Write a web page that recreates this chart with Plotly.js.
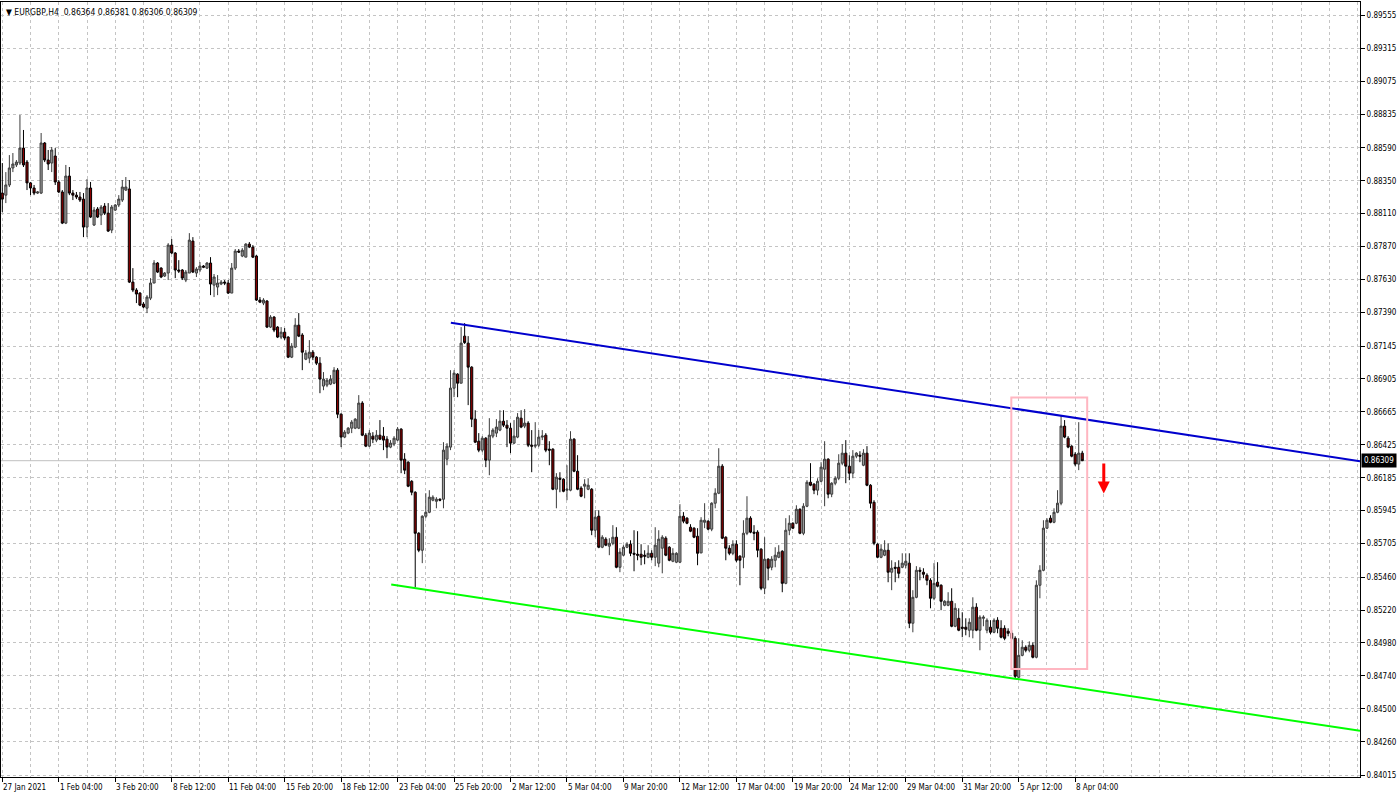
<!DOCTYPE html>
<html>
<head>
<meta charset="utf-8">
<script src="https://cdn.plot.ly/plotly-3.0.1.min.js"></script>
<style>html,body{margin:0;padding:0;background:#fff;}#chart{width:1400px;height:798px;}</style>
</head>
<body>
<div id="chart"></div>
<script>
// EURGBP H4 candles (index = bar number from 27 Jan 2021)
const openP = [
0.88260,0.88245,0.88319,0.88443,0.88465,0.88479,0.88588,0.88486,0.88334,0.88297,
0.88260,0.88260,0.88625,0.88501,0.88479,0.88530,0.88341,0.88268,0.88041,0.88384,
0.88260,0.88245,0.88231,0.88216,0.88012,0.88297,0.88027,0.88144,0.88100,0.88165,
0.88114,0.87990,0.88136,0.88173,0.88209,0.88282,0.88290,0.87611,0.87553,0.87531,
0.87451,0.87421,0.87494,0.87604,0.87750,0.87713,0.87655,0.87677,0.87881,0.87823,
0.87699,0.87699,0.87626,0.87677,0.87910,0.87677,0.87699,0.87728,0.87713,0.87750,
0.87589,0.87575,0.87597,0.87611,0.87604,0.87531,0.87713,0.87837,0.87801,0.87793,
0.87888,0.87866,0.87801,0.87480,0.87458,0.87473,0.87283,0.87356,0.87283,0.87210,
0.87246,0.87210,0.87064,0.87137,0.87297,0.87225,0.87049,0.87057,0.87100,0.87064,
0.87020,0.86853,0.86860,0.86867,0.86874,0.86969,0.86648,0.86481,0.86510,0.86546,
0.86546,0.86546,0.86729,0.86495,0.86415,0.86488,0.86459,0.86495,0.86488,0.86466,
0.86408,0.86430,0.86459,0.86539,0.86320,0.86298,0.86159,0.86079,0.85780,0.85656,
0.85904,0.85933,0.86021,0.86013,0.86028,0.86028,0.86320,0.86408,0.86838,0.86940,
0.86874,0.87217,0.87166,0.86991,0.86612,0.86451,0.86386,0.86473,0.86313,0.86488,
0.86510,0.86532,0.86597,0.86568,0.86546,0.86437,0.86481,0.86619,0.86561,0.86583,
0.86422,0.86415,0.86422,0.86481,0.86495,0.86393,0.86393,0.86101,0.86181,0.86174,
0.86094,0.86094,0.86466,0.86232,0.86109,0.86123,0.86101,0.86101,0.85802,0.85904,
0.85678,0.85737,0.85686,0.85707,0.85751,0.85532,0.85620,0.85678,0.85700,0.85634,
0.85627,0.85627,0.85620,0.85605,0.85634,0.85605,0.85562,0.85671,0.85744,0.85678,
0.85576,0.85569,0.85569,0.85904,0.85890,0.85824,0.85817,0.85758,0.85637,0.85860,
0.85868,0.85810,0.85999,0.86072,0.86269,0.85751,0.85671,0.85634,0.85700,0.85613,
0.85605,0.85780,0.85890,0.85788,0.85788,0.85664,0.85379,0.85591,0.85532,0.85583,
0.85605,0.85649,0.85415,0.85802,0.85853,0.85853,0.85955,0.85780,0.85977,0.86152,
0.86138,0.86094,0.86159,0.86247,0.86320,0.86065,0.86145,0.86181,0.86291,0.86364,
0.86269,0.86218,0.86342,0.86349,0.86276,0.86364,0.86130,0.86006,0.85700,0.85605,
0.85620,0.85656,0.85496,0.85532,0.85532,0.85532,0.85547,0.85562,0.85124,0.85313,
0.85510,0.85496,0.85474,0.85437,0.85306,0.85423,0.85401,0.85255,0.85255,0.85284,
0.85102,0.85160,0.85095,0.85095,0.85073,0.85073,0.85241,0.85073,0.85160,0.85073,
0.85095,0.85058,0.85146,0.85087,0.85087,0.85066,0.85051,0.85014,0.84730,0.84890,
0.84949,0.84927,0.84963,0.84876,0.85401,0.85510,0.85817,0.85890,0.85860,0.85933,
0.85999,0.86561,0.86473,0.86415,0.86356,0.86284,0.86364];
const highP = [
0.88479,0.88413,0.88537,0.88552,0.88501,0.88829,0.88720,0.88501,0.88341,0.88319,
0.88275,0.88698,0.88632,0.88574,0.88596,0.88588,0.88355,0.88282,0.88465,0.88450,
0.88282,0.88268,0.88268,0.88260,0.88362,0.88341,0.88158,0.88158,0.88173,0.88187,
0.88187,0.88173,0.88180,0.88245,0.88355,0.88377,0.88355,0.87713,0.87567,0.87538,
0.87465,0.87516,0.87640,0.87771,0.87757,0.87720,0.87684,0.87895,0.87925,0.87830,
0.87771,0.87706,0.87699,0.87968,0.87939,0.87720,0.87757,0.87735,0.87757,0.87793,
0.87670,0.87662,0.87626,0.87626,0.87626,0.87750,0.87852,0.87852,0.87859,0.87895,
0.87903,0.87881,0.87808,0.87502,0.87494,0.87480,0.87370,0.87363,0.87290,0.87283,
0.87276,0.87217,0.87166,0.87348,0.87385,0.87239,0.87115,0.87188,0.87115,0.87071,
0.87064,0.86955,0.86911,0.86933,0.86991,0.86984,0.86655,0.86532,0.86554,0.86605,
0.86619,0.86787,0.86743,0.86510,0.86532,0.86517,0.86532,0.86605,0.86554,0.86488,
0.86459,0.86488,0.86554,0.86546,0.86364,0.86305,0.86167,0.86086,0.85788,0.85911,
0.86072,0.86094,0.86057,0.86043,0.86035,0.86444,0.86437,0.86969,0.86969,0.86947,
0.87283,0.87312,0.87217,0.86998,0.86677,0.86510,0.86488,0.86481,0.86619,0.86546,
0.86612,0.86677,0.86677,0.86605,0.86583,0.86605,0.86656,0.86677,0.86685,0.86597,
0.86532,0.86590,0.86532,0.86532,0.86510,0.86451,0.86400,0.86218,0.86225,0.86181,
0.86276,0.86524,0.86473,0.86349,0.86123,0.86174,0.86181,0.86109,0.85948,0.85948,
0.85766,0.85751,0.85744,0.85839,0.85824,0.85671,0.85693,0.85715,0.85729,0.85802,
0.85795,0.85700,0.85656,0.85693,0.85656,0.85824,0.85802,0.85766,0.85758,0.85686,
0.85671,0.85642,0.85992,0.85934,0.85897,0.85846,0.85824,0.85817,0.85897,0.85999,
0.85875,0.86006,0.86108,0.86400,0.86284,0.85758,0.85693,0.85729,0.85729,0.85620,
0.85875,0.86050,0.85904,0.85839,0.85802,0.85671,0.85751,0.85598,0.85613,0.85678,
0.85693,0.85656,0.85890,0.85911,0.85860,0.85984,0.85962,0.85999,0.86167,0.86291,
0.86145,0.86181,0.86298,0.86451,0.86327,0.86152,0.86196,0.86356,0.86430,0.86459,
0.86349,0.86386,0.86371,0.86378,0.86393,0.86415,0.86138,0.86021,0.85707,0.85700,
0.85729,0.85707,0.85583,0.85569,0.85583,0.85634,0.85634,0.85634,0.85365,0.85540,
0.85532,0.85525,0.85488,0.85452,0.85562,0.85569,0.85408,0.85292,0.85350,0.85379,
0.85270,0.85233,0.85204,0.85160,0.85160,0.85313,0.85270,0.85182,0.85182,0.85160,
0.85146,0.85160,0.85168,0.85146,0.85109,0.85087,0.85073,0.85029,0.85014,0.85000,
0.84963,0.84992,0.84985,0.85437,0.85547,0.85875,0.85890,0.85911,0.85962,0.86094,
0.86640,0.86605,0.86488,0.86422,0.86371,0.86590,0.86381];
const lowP = [
0.88121,0.88187,0.88304,0.88413,0.88450,0.88465,0.88450,0.88282,0.88245,0.88245,
0.88253,0.88253,0.88486,0.88428,0.88413,0.88319,0.88260,0.88034,0.88034,0.88245,
0.88209,0.88216,0.88195,0.87939,0.87939,0.88078,0.88020,0.88078,0.88027,0.88100,
0.87976,0.87968,0.88129,0.88158,0.88195,0.88275,0.87604,0.87538,0.87458,0.87436,
0.87421,0.87385,0.87480,0.87604,0.87677,0.87640,0.87648,0.87626,0.87815,0.87640,
0.87677,0.87626,0.87611,0.87677,0.87677,0.87648,0.87684,0.87713,0.87706,0.87516,
0.87502,0.87516,0.87589,0.87589,0.87524,0.87531,0.87699,0.87823,0.87793,0.87793,
0.87859,0.87786,0.87473,0.87458,0.87443,0.87276,0.87276,0.87246,0.87203,0.87195,
0.87188,0.87057,0.87057,0.87130,0.87210,0.86969,0.87042,0.87020,0.87042,0.87006,
0.86801,0.86823,0.86845,0.86860,0.86867,0.86619,0.86408,0.86473,0.86502,0.86510,
0.86539,0.86539,0.86488,0.86408,0.86408,0.86437,0.86444,0.86459,0.86386,0.86327,
0.86400,0.86415,0.86451,0.86218,0.86211,0.86116,0.86057,0.85387,0.85642,0.85562,
0.85890,0.85926,0.86013,0.85962,0.86013,0.85962,0.86276,0.86386,0.86772,0.86772,
0.86874,0.87160,0.86714,0.86554,0.86437,0.86371,0.86371,0.86262,0.86203,0.86473,
0.86481,0.86524,0.86554,0.86408,0.86364,0.86430,0.86473,0.86546,0.86546,0.86408,
0.86225,0.86400,0.86408,0.86459,0.86371,0.86276,0.86094,0.85962,0.86079,0.86079,
0.86021,0.86086,0.86225,0.86094,0.86043,0.86035,0.86094,0.85766,0.85751,0.85671,
0.85671,0.85686,0.85620,0.85693,0.85525,0.85496,0.85613,0.85671,0.85613,0.85503,
0.85583,0.85547,0.85554,0.85598,0.85583,0.85540,0.85532,0.85488,0.85613,0.85576,
0.85569,0.85562,0.85562,0.85853,0.85846,0.85788,0.85744,0.85547,0.85634,0.85817,
0.85802,0.85795,0.85962,0.86065,0.85737,0.85583,0.85620,0.85620,0.85569,0.85401,
0.85525,0.85766,0.85780,0.85729,0.85605,0.85365,0.85336,0.85437,0.85510,0.85532,
0.85598,0.85350,0.85408,0.85766,0.85810,0.85846,0.85773,0.85766,0.85970,0.86123,
0.86065,0.86057,0.86152,0.85977,0.86035,0.86043,0.86130,0.86167,0.86276,0.86145,
0.86167,0.86181,0.86327,0.86298,0.86269,0.86123,0.85962,0.85693,0.85598,0.85598,
0.85613,0.85423,0.85365,0.85423,0.85452,0.85525,0.85525,0.85088,0.85058,0.85306,
0.85437,0.85452,0.85401,0.85233,0.85292,0.85386,0.85219,0.85248,0.85248,0.85095,
0.85095,0.85066,0.85022,0.85036,0.85022,0.85014,0.85066,0.84927,0.85102,0.85051,
0.85044,0.85051,0.85051,0.85014,0.85000,0.85029,0.85000,0.84723,0.84723,0.84883,
0.84912,0.84912,0.84868,0.84868,0.85306,0.85503,0.85810,0.85853,0.85853,0.85926,
0.85984,0.86473,0.86400,0.86334,0.86269,0.86240,0.86306];
const closeP = [
0.88216,0.88319,0.88443,0.88472,0.88486,0.88588,0.88465,0.88334,0.88297,0.88260,
0.88268,0.88625,0.88501,0.88472,0.88574,0.88341,0.88268,0.88041,0.88384,0.88260,
0.88245,0.88231,0.88209,0.88012,0.88297,0.88085,0.88136,0.88085,0.88158,0.88114,
0.87983,0.88158,0.88173,0.88216,0.88304,0.88304,0.87611,0.87553,0.87524,0.87443,
0.87429,0.87502,0.87604,0.87750,0.87684,0.87648,0.87677,0.87881,0.87823,0.87699,
0.87691,0.87640,0.87684,0.87917,0.87684,0.87706,0.87728,0.87720,0.87750,0.87597,
0.87648,0.87604,0.87611,0.87604,0.87531,0.87713,0.87837,0.87830,0.87844,0.87888,
0.87866,0.87793,0.87480,0.87465,0.87480,0.87283,0.87356,0.87261,0.87210,0.87246,
0.87203,0.87064,0.87144,0.87297,0.87217,0.87100,0.87093,0.87100,0.87064,0.87020,
0.86904,0.86904,0.86896,0.86904,0.86969,0.86648,0.86481,0.86517,0.86546,0.86590,
0.86612,0.86729,0.86495,0.86415,0.86510,0.86466,0.86495,0.86466,0.86459,0.86408,
0.86437,0.86473,0.86539,0.86313,0.86240,0.86123,0.86079,0.85780,0.85656,0.85904,
0.85933,0.86043,0.86043,0.86028,0.86021,0.86386,0.86415,0.86838,0.86947,0.86874,
0.87166,0.87170,0.86991,0.86612,0.86444,0.86386,0.86473,0.86313,0.86495,0.86532,
0.86554,0.86597,0.86568,0.86546,0.86437,0.86488,0.86626,0.86554,0.86583,0.86422,
0.86415,0.86422,0.86481,0.86488,0.86386,0.86386,0.86101,0.86189,0.86174,0.86086,
0.86101,0.86466,0.86232,0.86101,0.86050,0.86138,0.86130,0.85802,0.85897,0.85678,
0.85751,0.85693,0.85707,0.85751,0.85532,0.85642,0.85678,0.85700,0.85634,0.85627,
0.85620,0.85605,0.85613,0.85634,0.85605,0.85693,0.85737,0.85751,0.85620,0.85583,
0.85634,0.85634,0.85904,0.85868,0.85853,0.85795,0.85751,0.85634,0.85875,0.85875,
0.85810,0.85999,0.86072,0.86269,0.85744,0.85671,0.85634,0.85700,0.85583,0.85583,
0.85780,0.85890,0.85788,0.85780,0.85656,0.85379,0.85591,0.85525,0.85591,0.85620,
0.85642,0.85415,0.85802,0.85853,0.85817,0.85955,0.85780,0.85977,0.86152,0.86130,
0.86094,0.86159,0.86262,0.86320,0.86065,0.86145,0.86181,0.86291,0.86364,0.86269,
0.86218,0.86342,0.86364,0.86342,0.86364,0.86130,0.85999,0.85707,0.85605,0.85664,
0.85656,0.85496,0.85525,0.85525,0.85488,0.85562,0.85576,0.85124,0.85313,0.85510,
0.85503,0.85481,0.85437,0.85306,0.85415,0.85394,0.85284,0.85284,0.85284,0.85102,
0.85233,0.85073,0.85087,0.85080,0.85131,0.85241,0.85073,0.85168,0.85168,0.85146,
0.85058,0.85146,0.85087,0.85022,0.85014,0.85051,0.85014,0.84737,0.84890,0.84949,
0.84927,0.84963,0.84876,0.85401,0.85510,0.85817,0.85875,0.85860,0.85933,0.85999,
0.86561,0.86481,0.86408,0.86342,0.86284,0.86364,0.86309];

// time-axis labels (one every 16 bars)
const timeTickIdx = [0,16,32,48,64,80,96,112,128,144,160,176,192,208,224,240,256,272,288,304];
const timeTickText = ['27 Jan 2021','1 Feb 04:00','3 Feb 20:00','8 Feb 12:00','11 Feb 04:00','15 Feb 20:00',
  '18 Feb 12:00','23 Feb 04:00','25 Feb 20:00','2 Mar 12:00','5 Mar 04:00','9 Mar 20:00','12 Mar 12:00',
  '17 Mar 04:00','19 Mar 20:00','24 Mar 12:00','29 Mar 04:00','31 Mar 20:00','5 Apr 12:00','8 Apr 04:00'];

// price-axis labels
const priceTickVals = [0.89555,0.89315,0.89075,0.88835,0.88590,0.88350,0.88110,0.87870,0.87630,0.87390,
  0.87145,0.86905,0.86665,0.86425,0.86185,0.85945,0.85705,0.85460,0.85220,0.84980,0.84740,0.84500,0.84260,0.84015];

// drawn objects (bar index, price)
const upperLineX = [127.1, 384.7];
const upperLineY = [0.87314, 0.86305];
const lowerLineX = [110.2, 384.7];
const lowerLineY = [0.85406, 0.84340];
const boxX = [285.9, 307.4];
const boxY = [0.84790, 0.86770];
const arrowX = 312.1;
const arrowY = [0.86300, 0.86070];
const bidPrice = 0.86309;
const headerText = '\u25BC EURGBP,H4  0.86364 0.86381 0.86306 0.86309';

const FONT = 'DejaVu Sans Condensed, Liberation Sans, sans-serif';
const barIdx = openP.map((_, i) => i);
const gridIdx = [];
for (let g = 0; g <= 384; g += 8) gridIdx.push(g);

const traces = [
  {
    type: 'candlestick', x: barIdx, open: openP, high: highP, low: lowP, close: closeP,
    increasing: {line: {color: '#3c3c3c', width: 1}, fillcolor: '#9c9c9c'},
    decreasing: {line: {color: '#000000', width: 1}, fillcolor: '#8b0000'},
    whiskerwidth: 0, hoverinfo: 'skip', showlegend: false
  },
  {type: 'scatter', mode: 'lines', x: upperLineX, y: upperLineY, line: {color: '#0000cd', width: 2}, hoverinfo: 'skip', cliponaxis: true},
  {type: 'scatter', mode: 'lines', x: lowerLineX, y: lowerLineY, line: {color: '#00ff00', width: 2}, hoverinfo: 'skip', cliponaxis: true}
];

const grid = '#c4c4c4';
const annotations = timeTickIdx.map((v, k) => ({
  x: v, xref: 'x', y: 0, yref: 'paper', yanchor: 'top', xanchor: 'left', xshift: -1, yshift: -4,
  text: timeTickText[k], showarrow: false, font: {family: FONT, size: 8, color: '#000'}
}));
annotations.push({
  x: 0, xref: 'paper', y: 1, yref: 'paper', xanchor: 'left', yanchor: 'top', xshift: 3, yshift: -3,
  text: headerText, showarrow: false, font: {family: FONT, size: 8.5, color: '#000'}
});
annotations.push({
  x: 1, xref: 'paper', y: bidPrice, yref: 'y', xanchor: 'left', yanchor: 'middle', xshift: 1,
  text: bidPrice.toFixed(5), showarrow: false, bgcolor: '#000000', borderpad: 2,
  font: {family: FONT, size: 8, color: '#ffffff'}
});
annotations.push({
  x: arrowX, y: arrowY[1], xref: 'x', yref: 'y', ax: arrowX, ay: arrowY[0], axref: 'x', ayref: 'y',
  text: '', showarrow: true, arrowhead: 2, arrowsize: 0.8, arrowwidth: 3, arrowcolor: '#ff0000'
});

const layout = {
  width: 1400, height: 798,
  margin: {l: 1, r: 40, t: 2, b: 21, pad: 0},
  paper_bgcolor: '#ffffff', plot_bgcolor: '#ffffff',
  showlegend: false, boxgap: 0.15,
  xaxis: {
    range: [-0.37, 384.7], tickmode: 'array', tickvals: timeTickIdx, ticks: 'outside', ticklen: 4,
    tickcolor: '#000', showticklabels: false, showgrid: true, gridcolor: grid, griddash: 'dot', gridwidth: 1,
    minor: {tickmode: 'array', tickvals: gridIdx, showgrid: true, gridcolor: grid, griddash: 'dot', ticks: ''},
    showline: true, linecolor: '#000', linewidth: 1, mirror: true, zeroline: false,
    rangeslider: {visible: false}, fixedrange: true
  },
  yaxis: {
    side: 'right', range: [0.84003, 0.89653], tickmode: 'array', tickvals: priceTickVals,
    ticktext: priceTickVals.map(v => v.toFixed(5)), ticks: 'outside', ticklen: 4, tickcolor: '#000',
    tickfont: {family: FONT, size: 8, color: '#000'}, showgrid: true, gridcolor: grid, griddash: 'dot',
    showline: true, linecolor: '#000', linewidth: 1, mirror: true, zeroline: false, fixedrange: true
  },
  shapes: [
    {type: 'line', xref: 'paper', x0: 0, x1: 1, yref: 'y', y0: bidPrice, y1: bidPrice, layer: 'below',
     line: {color: '#c0c0c0', width: 1}},
    {type: 'rect', xref: 'x', yref: 'y', x0: boxX[0], x1: boxX[1], y0: boxY[0], y1: boxY[1], layer: 'above',
     line: {color: '#ffb6c1', width: 2}, fillcolor: 'rgba(0,0,0,0)'}
  ],
  annotations: annotations
};

Plotly.newPlot('chart', traces, layout, {staticPlot: true, displayModeBar: false});
</script>
</body>
</html>
